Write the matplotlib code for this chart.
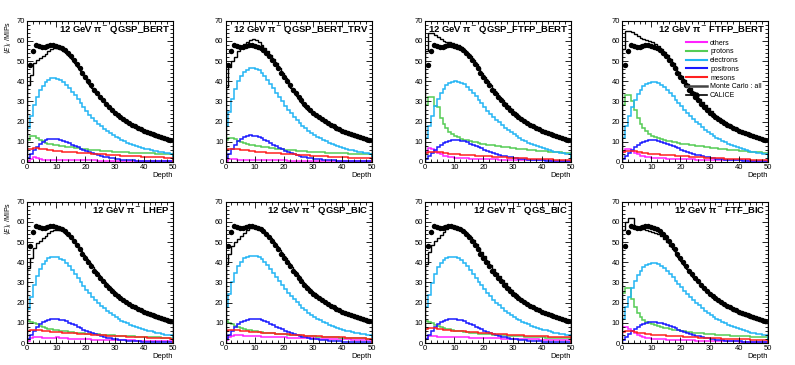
import matplotlib
matplotlib.use("Agg")
import matplotlib.pyplot as plt
import numpy as np
from matplotlib.lines import Line2D
from matplotlib.ticker import MultipleLocator

plt.rcParams["font.family"] = ["Liberation Sans", "DejaVu Sans"]

EDGES = np.arange(0, 51)
CALICE_X = np.arange(1, 50)
CALICE = [48, 55, 58, 57.5, 57.2, 57.2, 57.5, 58, 58, 57.6, 57, 56.3, 55.3, 54, 52.4, 50.6, 48.6,
          46.5, 44.3, 42.1, 40, 37.9, 35.9, 34, 32.2, 30.5, 28.9, 27.4, 25.9, 24.5, 23.3, 22.2, 21.1,
          20.1, 19.2, 18.4, 17.6, 16.9, 16.2, 15.5, 14.9, 14.4, 13.9, 13.4, 12.9, 12.4, 11.9, 11.4, 10.9]

# --- QGSP_BERT
QGSP_BERT_ALL = [38, 43, 49, 50.5, 51.5, 52.5, 53.5, 55, 56, 56.5, 56.5, 56, 55.2, 54, 52.6, 51, 49.2, 47.2, 45.1, 43,
                 40.9, 38.8, 36.8, 34.9, 33.1, 31.3, 29.7, 28.1, 26.6, 25.2, 23.9, 22.7, 21.6, 20.5, 19.5, 18.6, 17.7,
                 16.9, 16.2, 15.5, 14.8, 14.2, 13.6, 13.1, 12.6, 12.1, 11.6, 11.2, 10.8, 10.4]
QGSP_BERT_ELE = [17, 23, 28, 32, 35.5, 37.8, 39.5, 40.8, 41.4, 41.5, 41.3, 40.6, 39.6, 38.3, 36.7, 34.9, 33, 31, 29, 27.1,
                 25.2, 23.5, 21.9, 20.4, 19, 17.7, 16.5, 15.4, 14.4, 13.4, 12.5, 11.7, 10.9, 10.2, 9.6, 9, 8.4, 7.9,
                 7.4, 7, 6.6, 6.2, 5.9, 5.6, 5.3, 5, 4.8, 4.5, 4.3, 4.1]
QGSP_BERT_PRO = [11, 13, 13, 12, 11, 10.2, 9.6, 9.1, 8.7, 8.4, 8.2, 8, 7.8, 7.6, 7.4, 7.2, 7, 6.8, 6.6, 6.4, 6.2, 6.1,
                 6, 5.8, 5.7, 5.6, 5.5, 5.4, 5.3, 5.2, 5.1, 5, 4.9, 4.9, 4.8, 4.7, 4.7, 4.6, 4.5, 4.5, 4.4, 4.4, 4.3,
                 4.3, 4.2, 4.2, 4.1, 4.1, 4, 4]
QGSP_BERT_POS = [2, 4, 6, 7.5, 9, 10, 10.8, 11.3, 11.5, 11.5, 11.3, 11, 10.5, 10, 9.3, 8.6, 8, 7.3, 6.6, 6, 5.4, 4.8,
                 4.3, 3.8, 3.4, 3, 2.6, 2.3, 2, 1.8, 1.6, 1.4, 1.2, 1.1, 1, 0.9, 0.8, 0.7, 0.65, 0.6, 0.55, 0.5, 0.45,
                 0.42, 0.4, 0.37, 0.35, 0.33, 0.3, 0.3]
QGSP_BERT_MES = [6.2, 6.6, 6.8, 6.8, 6.6, 6.4, 6.2, 6, 5.8, 5.6, 5.4, 5.3, 5.2, 5.1, 5, 4.9, 4.8, 4.7, 4.6, 4.5, 4.4,
                 4.3, 4.2, 4.1, 4, 3.9, 3.8, 3.7, 3.6, 3.5, 3.4, 3.3, 3.2, 3.1, 3.1, 3, 2.9, 2.8, 2.8, 2.7, 2.6, 2.6,
                 2.5, 2.4, 2.4, 2.3, 2.3, 2.2, 2.2, 2.1]
QGSP_BERT_OTH = [0.5, 1.5, 2.3, 2, 1.5, 1.2, 1.1, 1, 1, 1, 1, 1, 1, 0.9, 0.9, 0.9, 0.9, 0.9, 0.8, 0.8, 0.8, 0.8, 0.8,
                 0.8, 0.7, 0.7, 0.7, 0.7, 0.7, 0.7, 0.7, 0.6, 0.6, 0.6, 0.6, 0.6, 0.6, 0.6, 0.6, 0.5, 0.5, 0.5, 0.5,
                 0.5, 0.5, 0.5, 0.5, 0.5, 0.5, 0.5]

# --- QGSP_BERT_TRV
TRV_ALL = [37, 47, 50, 52, 55, 57, 58.5, 59.5, 60.5, 61, 60.5, 59.5, 58, 56.5, 55, 53, 51, 49, 46.5, 44, 41.5, 39,
           36.8, 34.6, 32.6, 30.8, 29, 27.4, 26, 24.7, 23.5, 22.4, 21.3, 20.3, 19.3, 18.4, 17.6, 16.8, 16.1, 15.4,
           14.8, 14.2, 13.6, 13.1, 12.6, 12.1, 11.7, 11.3, 10.9, 10.5]
TRV_ELE = [18, 25, 31, 36, 40, 42.8, 44.6, 45.8, 46.4, 46.5, 46.2, 45.4, 44.2, 42.6, 40.8, 38.7, 36.5, 34.3, 32.1, 30,
           27.9, 26, 24.2, 22.5, 20.9, 19.4, 18, 16.8, 15.6, 14.5, 13.5, 12.6, 11.7, 10.9, 10.2, 9.5, 8.9, 8.3, 7.8,
           7.3, 6.9, 6.5, 6.1, 5.8, 5.5, 5.2, 4.9, 4.7, 4.4, 4.2]
TRV_PRO = [11, 12, 12, 11.2, 10.5, 10, 9.5, 9, 8.6, 8.3, 8, 7.8, 7.6, 7.4, 7.2, 7, 6.8, 6.6, 6.4, 6.3, 6.1, 6, 5.8,
           5.7, 5.6, 5.5, 5.4, 5.3, 5.2, 5.1, 5, 4.9, 4.8, 4.8, 4.7, 4.6, 4.6, 4.5, 4.4, 4.4, 4.3, 4.3, 4.2, 4.2,
           4.1, 4.1, 4, 4, 3.9, 3.9]
TRV_POS = [2, 4, 6.5, 8.5, 10.3, 11.6, 12.5, 13, 13.2, 13.1, 12.8, 12.3, 11.7, 11, 10.2, 9.4, 8.6, 7.8, 7, 6.3, 5.6,
           5, 4.4, 3.9, 3.4, 3, 2.7, 2.4, 2.1, 1.9, 1.7, 1.5, 1.3, 1.2, 1.1, 1, 0.9, 0.8, 0.7, 0.65, 0.6, 0.55, 0.5,
           0.45, 0.42, 0.4, 0.37, 0.35, 0.33, 0.3]
TRV_MES = [6, 6.5, 6.6, 6.5, 6.3, 6.1, 5.9, 5.7, 5.5, 5.3, 5.1, 5, 4.9, 4.8, 4.7, 4.6, 4.5, 4.4, 4.3, 4.2, 4.1, 4,
           3.9, 3.8, 3.7, 3.6, 3.5, 3.4, 3.3, 3.2, 3.1, 3, 2.9, 2.9, 2.8, 2.7, 2.6, 2.6, 2.5, 2.4, 2.4, 2.3, 2.2,
           2.2, 2.1, 2.1, 2, 2, 1.9, 1.9]
TRV_OTH = [0.5, 1.5, 1.7, 1.4, 1.2, 1.1, 1, 1, 1, 1, 0.9, 0.9, 0.9, 0.9, 0.9, 0.8, 0.8, 0.8, 0.8, 0.8, 0.8, 0.7, 0.7,
           0.7, 0.7, 0.7, 0.7, 0.7, 0.6, 0.6, 0.6, 0.6, 0.6, 0.6, 0.6, 0.6, 0.5, 0.5, 0.5, 0.5, 0.5, 0.5, 0.5, 0.5,
           0.5, 0.5, 0.5, 0.5, 0.5, 0.5]

# --- QGSP_FTFP_BERT
QFTFP_ALL = [55, 64, 64, 63, 62, 61, 60, 59.5, 59.5, 59, 58.5, 57.8, 56.8, 55.5, 54, 52.3, 50.5, 48.5, 46.4, 44.3,
             42.2, 40.1, 38.1, 36.1, 34.2, 32.4, 30.7, 29.1, 27.6, 26.2, 24.9, 23.7, 22.5, 21.4, 20.4, 19.4, 18.5,
             17.6, 16.8, 16, 15.3, 14.6, 14, 13.4, 12.8, 12.3, 11.8, 11.3, 10.8, 10.4]
QFTFP_ELE = [12, 18, 23, 27.5, 31, 34, 36.3, 38, 39.2, 39.8, 40, 39.8, 39.3, 38.4, 37.2, 35.8, 34.2, 32.5, 30.7, 29,
             27.2, 25.5, 24, 22.5, 21, 19.6, 18.3, 17, 15.9, 14.8, 13.8, 12.8, 11.9, 11.1, 10.3, 9.6, 8.9, 8.3, 7.7,
             7.2, 6.7, 6.3, 5.9, 5.5, 5.2, 4.9, 4.6, 4.3, 4.1, 3.8]
QFTFP_PRO = [28, 32, 32, 27.5, 27, 22, 19, 17, 15, 14, 13, 12.2, 11.6, 11.1, 10.7, 10.3, 10, 9.7, 9.4, 9.1, 8.8, 8.6,
             8.4, 8.2, 8, 7.8, 7.6, 7.4, 7.2, 7, 6.8, 6.6, 6.5, 6.3, 6.2, 6, 5.9, 5.8, 5.6, 5.5, 5.4, 5.3, 5.2, 5.1,
             5, 4.9, 4.8, 4.7, 4.6, 4.5]
QFTFP_POS = [1.5, 3, 4.5, 6, 7.3, 8.4, 9.3, 10, 10.5, 10.8, 11, 10.9, 10.6, 10.2, 9.7, 9.1, 8.5, 7.9, 7.3, 6.7, 6.1,
             5.5, 5, 4.5, 4, 3.6, 3.2, 2.9, 2.6, 2.3, 2.1, 1.9, 1.7, 1.5, 1.3, 1.2, 1.1, 1, 0.9, 0.8, 0.75, 0.7, 0.65,
             0.6, 0.55, 0.5, 0.45, 0.42, 0.4, 0.37]
QFTFP_MES = [4.5, 5, 5.2, 5.2, 5, 4.8, 4.6, 4.4, 4.2, 4, 3.9, 3.8, 3.7, 3.6, 3.5, 3.4, 3.3, 3.2, 3.1, 3, 2.95, 2.9,
             2.8, 2.7, 2.6, 2.5, 2.4, 2.3, 2.2, 2.1, 2, 1.95, 1.9, 1.8, 1.75, 1.7, 1.6, 1.55, 1.5, 1.45, 1.4, 1.35,
             1.3, 1.25, 1.2, 1.15, 1.1, 1.05, 1, 1]
QFTFP_OTH = [5, 7, 6.5, 5.5, 4.5, 3.8, 3.2, 2.8, 2.5, 2.3, 2.1, 2, 1.9, 1.8, 1.75, 1.7, 1.65, 1.6, 1.55, 1.5, 1.45,
             1.4, 1.35, 1.3, 1.25, 1.2, 1.15, 1.1, 1.05, 1, 1, 0.95, 0.95, 0.9, 0.9, 0.85, 0.85, 0.8, 0.8, 0.8, 0.75,
             0.75, 0.75, 0.7, 0.7, 0.7, 0.7, 0.65, 0.65, 0.65]

# --- FTFP_BERT
FTFP_ALL = [56, 65, 65, 64.5, 63.5, 62.5, 61.5, 61, 60.5, 60, 59.5, 58.5, 57.3, 56, 54.5, 52.8, 51, 49, 46.9, 44.8,
            42.7, 40.6, 38.5, 36.5, 34.6, 32.8, 31.1, 29.5, 28, 26.6, 25.3, 24, 22.8, 21.7, 20.6, 19.6, 18.7, 17.8,
            17, 16.2, 15.5, 14.8, 14.2, 13.6, 13, 12.5, 12, 11.5, 11, 10.6]
FTFP_ELE = [12, 18, 23, 27, 30.5, 33.5, 35.8, 37.5, 38.7, 39.3, 39.5, 39.4, 38.9, 38.1, 37, 35.7, 34.2, 32.6, 30.9,
            29.2, 27.5, 25.9, 24.3, 22.8, 21.3, 19.9, 18.6, 17.3, 16.1, 15, 14, 13, 12.1, 11.2, 10.4, 9.7, 9, 8.4,
            7.8, 7.3, 6.8, 6.3, 5.9, 5.5, 5.2, 4.9, 4.6, 4.3, 4, 3.8]
FTFP_PRO = [28, 33, 33, 30, 26, 22, 19, 17, 15.5, 14, 13, 12.4, 11.9, 11.4, 11, 10.6, 10.3, 10, 9.7, 9.4, 9.1, 8.9,
            8.7, 8.5, 8.3, 8.1, 7.9, 7.7, 7.5, 7.3, 7.1, 6.9, 6.7, 6.5, 6.4, 6.2, 6.1, 5.9, 5.8, 5.7, 5.5, 5.4, 5.3,
            5.2, 5.1, 5, 4.9, 4.8, 4.7, 4.6]
FTFP_POS = [1.5, 3, 4.5, 6, 7.2, 8.3, 9.2, 9.9, 10.4, 10.7, 10.8, 10.7, 10.5, 10.1, 9.6, 9.1, 8.5, 7.9, 7.3, 6.7,
            6.1, 5.6, 5, 4.5, 4.1, 3.7, 3.3, 2.9, 2.6, 2.3, 2.1, 1.9, 1.7, 1.5, 1.3, 1.2, 1.1, 1, 0.9, 0.8, 0.75,
            0.7, 0.65, 0.6, 0.55, 0.5, 0.45, 0.42, 0.4, 0.37]
FTFP_MES = [5, 5.5, 5.6, 5.5, 5.3, 5, 4.8, 4.6, 4.4, 4.2, 4, 3.9, 3.8, 3.7, 3.6, 3.5, 3.4, 3.3, 3.2, 3.1, 3, 2.9,
            2.8, 2.7, 2.6, 2.5, 2.4, 2.3, 2.2, 2.1, 2, 1.95, 1.9, 1.8, 1.75, 1.7, 1.6, 1.55, 1.5, 1.45, 1.4, 1.35,
            1.3, 1.25, 1.2, 1.15, 1.1, 1.05, 1, 1]
FTFP_OTH = [5, 6.5, 6.5, 5.5, 4.5, 3.8, 3.2, 2.8, 2.5, 2.3, 2.1, 2, 1.9, 1.8, 1.75, 1.7, 1.65, 1.6, 1.55, 1.5, 1.45,
            1.4, 1.35, 1.3, 1.25, 1.2, 1.15, 1.1, 1.05, 1, 1, 0.95, 0.95, 0.9, 0.9, 0.85, 0.85, 0.8, 0.8, 0.8, 0.75,
            0.75, 0.75, 0.7, 0.7, 0.7, 0.7, 0.65, 0.65, 0.65]

# --- LHEP
LHEP_ALL = [37, 42, 47, 49.5, 50.5, 52, 53, 54.5, 55.5, 56, 56.2, 56, 55.3, 54.2, 52.9, 51.4, 49.7, 47.8, 45.8, 43.7,
            41.6, 39.5, 37.5, 35.6, 33.7, 31.9, 30.2, 28.6, 27.1, 25.7, 24.4, 23.1, 21.9, 20.8, 19.8, 18.8, 17.9,
            17.1, 16.3, 15.5, 14.8, 14.1, 13.5, 12.9, 12.3, 11.8, 11.3, 10.8, 10.3, 9.9]
LHEP_ELE = [17, 23, 28.5, 33, 36.5, 39, 40.8, 41.9, 42.4, 42.6, 42.4, 41.8, 40.9, 39.6, 38, 36.2, 34.3, 32.3, 30.3,
            28.3, 26.4, 24.6, 22.9, 21.3, 19.8, 18.4, 17.1, 15.9, 14.8, 13.8, 12.8, 11.9, 11.1, 10.4, 9.7, 9, 8.4,
            7.9, 7.4, 6.9, 6.5, 6.1, 5.7, 5.4, 5.1, 4.8, 4.5, 4.2, 4, 3.8]
LHEP_PRO = [11, 10.5, 10, 9.3, 8.6, 8, 7.5, 7.1, 6.8, 6.5, 6.3, 6.1, 5.9, 5.7, 5.5, 5.3, 5.2, 5, 4.9, 4.8, 4.7, 4.6,
            4.5, 4.4, 4.3, 4.2, 4.1, 4, 3.9, 3.8, 3.7, 3.6, 3.5, 3.45, 3.4, 3.3, 3.25, 3.2, 3.1, 3.05, 3, 2.95, 2.9,
            2.85, 2.8, 2.75, 2.7, 2.65, 2.6, 2.55]
LHEP_POS = [2, 4, 6, 7.8, 9.2, 10.3, 11.1, 11.6, 11.9, 12, 11.9, 11.6, 11.2, 10.7, 10.1, 9.4, 8.7, 8, 7.3, 6.6, 6,
            5.4, 4.8, 4.3, 3.8, 3.4, 3, 2.7, 2.4, 2.1, 1.9, 1.7, 1.5, 1.3, 1.2, 1.1, 1, 0.9, 0.8, 0.7, 0.65, 0.6,
            0.55, 0.5, 0.45, 0.42, 0.4, 0.37, 0.35, 0.33]
LHEP_MES = [6, 6.5, 6.5, 6.4, 6.2, 6, 5.8, 5.7, 5.6, 5.5, 5.4, 5.3, 5.2, 5.1, 5, 4.9, 4.8, 4.7, 4.6, 4.5, 4.4, 4.3,
            4.2, 4.1, 4, 3.9, 3.8, 3.7, 3.6, 3.5, 3.45, 3.4, 3.3, 3.25, 3.2, 3.1, 3.05, 3, 2.9, 2.85, 2.8, 2.7, 2.65,
            2.6, 2.5, 2.45, 2.4, 2.3, 2.25, 2.2]
LHEP_OTH = [1, 2.5, 3, 3, 2.9, 2.7, 2.5, 2.4, 2.5, 2.7, 2.8, 2.6, 2.4, 2.3, 2.2, 2.1, 2, 2, 1.9, 1.9, 1.8, 1.8, 1.7,
            1.7, 1.6, 1.6, 1.6, 1.5, 1.5, 1.5, 1.4, 1.4, 1.4, 1.3, 1.3, 1.3, 1.3, 1.2, 1.2, 1.2, 1.2, 1.1, 1.1, 1.1,
            1.1, 1, 1, 1, 1, 1]

# --- QGSP_BIC
QBIC_ALL = [39, 44, 48, 50, 51.5, 53, 54.5, 56, 57, 57.5, 57.5, 57, 56.2, 55, 53.6, 52, 50.2, 48.2, 46.1, 44, 41.9,
            39.8, 37.8, 35.8, 33.9, 32.1, 30.4, 28.8, 27.3, 25.9, 24.6, 23.3, 22.1, 21, 20, 19, 18.1, 17.3, 16.5,
            15.7, 15, 14.4, 13.8, 13.2, 12.6, 12.1, 11.6, 11.1, 10.7, 10.3]
QBIC_ELE = [18, 24.5, 30, 34.5, 38, 40.3, 41.9, 42.8, 43.2, 43.2, 43, 42.4, 41.5, 40.2, 38.6, 36.8, 34.8, 32.8, 30.8,
            28.8, 26.8, 25, 23.2, 21.6, 20.1, 18.7, 17.4, 16.2, 15.1, 14, 13, 12.1, 11.3, 10.5, 9.8, 9.1, 8.5, 8, 7.5,
            7, 6.5, 6.1, 5.7, 5.4, 5.1, 4.8, 4.5, 4.3, 4, 3.8]
QBIC_PRO = [11, 10, 9.2, 8.5, 7.9, 7.4, 7, 6.6, 6.3, 6, 5.8, 5.6, 5.4, 5.2, 5, 4.9, 4.8, 4.6, 4.5, 4.4, 4.3, 4.2,
            4.1, 4, 3.9, 3.8, 3.7, 3.6, 3.5, 3.4, 3.3, 3.2, 3.15, 3.1, 3, 2.95, 2.9, 2.8, 2.75, 2.7, 2.6, 2.55, 2.5,
            2.45, 2.4, 2.35, 2.3, 2.25, 2.2, 2.15]
QBIC_POS = [2, 4, 6, 7.8, 9.2, 10.3, 11.1, 11.6, 11.9, 12, 12, 11.7, 11.3, 10.8, 10.2, 9.5, 8.8, 8.1, 7.4, 6.7, 6.1,
            5.5, 4.9, 4.4, 3.9, 3.5, 3.1, 2.8, 2.5, 2.2, 2, 1.8, 1.6, 1.4, 1.3, 1.2, 1.1, 1, 0.9, 0.8, 0.7, 0.65,
            0.6, 0.55, 0.5, 0.45, 0.42, 0.4, 0.37, 0.35]
QBIC_MES = [6, 6.5, 6.6, 6.5, 6.3, 6.1, 5.9, 5.8, 5.6, 5.5, 5.4, 5.3, 5.2, 5.1, 5, 4.9, 4.8, 4.7, 4.6, 4.5, 4.4, 4.3,
            4.2, 4.1, 4, 3.9, 3.8, 3.7, 3.6, 3.5, 3.4, 3.35, 3.3, 3.2, 3.15, 3.1, 3, 2.95, 2.9, 2.8, 2.75, 2.7, 2.6,
            2.55, 2.5, 2.4, 2.35, 2.3, 2.2, 2.15]
QBIC_OTH = [1.5, 3, 3.5, 3.8, 3.9, 3.8, 3.7, 3.6, 3.5, 3.5, 3.4, 3.3, 3.2, 3.2, 3.1, 3, 3, 2.9, 2.9, 2.8, 2.8, 2.7,
            2.7, 2.6, 2.6, 2.5, 2.5, 2.4, 2.4, 2.3, 2.3, 2.2, 2.2, 2.1, 2.1, 2, 2, 2, 1.9, 1.9, 1.8, 1.8, 1.8, 1.7,
            1.7, 1.7, 1.6, 1.6, 1.6, 1.5]

# --- QGS_BIC
QGS_ALL = [39, 45, 48.5, 50.5, 52, 53.5, 55, 56.5, 57.5, 58, 57.8, 57.2, 56.5, 55.5, 54.2, 52.7, 51, 49.1, 47.1, 45,
           42.9, 40.8, 38.7, 36.7, 34.8, 33, 31.2, 29.5, 27.9, 26.4, 25, 23.7, 22.5, 21.4, 20.3, 19.3, 18.4, 17.5,
           16.7, 15.9, 15.2, 14.5, 13.9, 13.3, 12.7, 12.2, 11.7, 11.2, 10.8, 10.4]
QGS_ELE = [18, 24, 29.5, 34, 37.5, 39.8, 41.3, 42.2, 42.6, 42.7, 42.5, 41.9, 41, 39.7, 38.1, 36.3, 34.4, 32.4, 30.4,
           28.5, 26.6, 24.8, 23.1, 21.5, 20, 18.6, 17.3, 16.1, 15, 14, 13, 12.1, 11.3, 10.5, 9.8, 9.2, 8.6, 8, 7.5,
           7, 6.6, 6.2, 5.8, 5.5, 5.2, 4.9, 4.6, 4.4, 4.1, 3.9]
QGS_PRO = [11, 10.5, 9.7, 9, 8.4, 7.9, 7.4, 7, 6.7, 6.4, 6.1, 5.9, 5.7, 5.5, 5.3, 5.1, 5, 4.8, 4.7, 4.6, 4.5, 4.4,
           4.3, 4.2, 4.1, 4, 3.9, 3.8, 3.7, 3.6, 3.5, 3.4, 3.3, 3.25, 3.2, 3.1, 3.05, 3, 2.9, 2.85, 2.8, 2.7, 2.65,
           2.6, 2.55, 2.5, 2.45, 2.4, 2.35, 2.3]
QGS_POS = [2, 4, 6, 7.8, 9.2, 10.3, 11.1, 11.6, 11.9, 12, 11.9, 11.6, 11.2, 10.7, 10.1, 9.5, 8.8, 8.1, 7.4, 6.8, 6.1,
           5.5, 5, 4.5, 4, 3.6, 3.2, 2.8, 2.5, 2.2, 2, 1.8, 1.6, 1.4, 1.3, 1.2, 1.1, 1, 0.9, 0.8, 0.7, 0.65, 0.6,
           0.55, 0.5, 0.45, 0.42, 0.4, 0.37, 0.35]
QGS_MES = [7, 7.5, 7.5, 7.3, 7, 6.8, 6.6, 6.4, 6.2, 6.1, 6, 5.9, 5.8, 5.7, 5.6, 5.5, 5.4, 5.3, 5.2, 5.1, 5, 4.9,
           4.8, 4.7, 4.6, 4.5, 4.4, 4.3, 4.2, 4.1, 4, 3.9, 3.85, 3.8, 3.7, 3.65, 3.6, 3.5, 3.45, 3.4, 3.3, 3.25, 3.2,
           3.1, 3.05, 3, 2.95, 2.9, 2.85, 2.8]
QGS_OTH = [2, 3.5, 3.5, 3.3, 3.2, 3.1, 3, 3, 3, 3, 3, 2.9, 2.9, 2.8, 2.8, 2.7, 2.7, 2.6, 2.6, 2.5, 2.5, 2.5, 2.4,
           2.4, 2.3, 2.3, 2.2, 2.2, 2.1, 2.1, 2, 2, 2, 1.9, 1.9, 1.9, 1.8, 1.8, 1.8, 1.7, 1.7, 1.7, 1.6, 1.6, 1.6,
           1.5, 1.5, 1.5, 1.5, 1.4]

# --- FTF_BIC
FBIC_ALL = [56, 60, 62, 62, 57.5, 57, 56.8, 56.5, 56, 55.5, 55, 54.5, 53.8, 52.8, 51.5, 50, 48.3, 46.4, 44.4, 42.4,
            40.4, 38.4, 36.5, 34.6, 32.8, 31.1, 29.5, 27.9, 26.5, 25.1, 23.8, 22.6, 21.5, 20.4, 19.4, 18.5, 17.6,
            16.8, 16, 15.3, 14.6, 14, 13.4, 12.8, 12.3, 11.8, 11.3, 10.9, 10.5, 10.1]
FBIC_ELE = [12, 18, 23, 27, 30.5, 33.5, 35.8, 37.5, 38.7, 39.3, 39.5, 39.4, 38.9, 38.1, 37, 35.7, 34.2, 32.6, 30.9,
            29.2, 27.5, 25.9, 24.3, 22.8, 21.3, 19.9, 18.6, 17.3, 16.1, 15, 14, 13, 12.1, 11.2, 10.4, 9.7, 9, 8.4,
            7.8, 7.3, 6.8, 6.3, 5.9, 5.5, 5.2, 4.9, 4.6, 4.3, 4, 3.8]
FBIC_PRO = [25, 27, 27, 22, 18, 15, 13, 11.5, 10.5, 9.8, 9.2, 8.8, 8.4, 8, 7.6, 7.2, 6.9, 6.6, 6.4, 6.2, 6, 5.8,
            5.6, 5.4, 5.2, 5, 4.9, 4.8, 4.6, 4.5, 4.4, 4.3, 4.2, 4.1, 4, 3.9, 3.8, 3.7, 3.6, 3.5, 3.45, 3.4, 3.3,
            3.25, 3.2, 3.1, 3.05, 3, 2.95, 2.9]
FBIC_POS = [1.5, 3, 4.5, 5.9, 7.1, 8.1, 8.9, 9.5, 10, 10.3, 10.4, 10.3, 10.1, 9.8, 9.4, 8.9, 8.4, 7.8, 7.2, 6.6,
            6.1, 5.5, 5, 4.5, 4.1, 3.7, 3.3, 2.9, 2.6, 2.3, 2.1, 1.9, 1.7, 1.5, 1.3, 1.2, 1.1, 1, 0.9, 0.8, 0.75,
            0.7, 0.65, 0.6, 0.55, 0.5, 0.45, 0.42, 0.4, 0.37]
FBIC_MES = [5.5, 6, 6, 5.8, 5.5, 5.2, 5, 4.8, 4.6, 4.4, 4.2, 4.1, 4, 3.9, 3.8, 3.7, 3.6, 3.5, 3.4, 3.35, 3.3, 3.2,
            3.1, 3, 2.9, 2.8, 2.7, 2.65, 2.6, 2.5, 2.45, 2.4, 2.3, 2.25, 2.2, 2.15, 2.1, 2.05, 2, 1.95, 1.9, 1.85,
            1.8, 1.75, 1.7, 1.65, 1.6, 1.55, 1.5, 1.5]
FBIC_OTH = [8, 8, 7, 6, 5, 4.2, 3.6, 3.1, 2.7, 2.4, 2.2, 2, 1.9, 1.8, 1.75, 1.7, 1.65, 1.6, 1.55, 1.5, 1.45, 1.4,
            1.35, 1.3, 1.25, 1.2, 1.15, 1.1, 1.05, 1, 1, 0.95, 0.9, 0.9, 0.85, 0.85, 0.8, 0.8, 0.75, 0.75, 0.7, 0.7,
            0.7, 0.65, 0.65, 0.65, 0.6, 0.6, 0.6, 0.6]

MODELS = ["QGSP_BERT", "QGSP_BERT_TRV", "QGSP_FTFP_BERT", "FTFP_BERT",
          "LHEP", "QGSP_BIC", "QGS_BIC", "FTF_BIC"]

# per panel: (all, others, protons, electrons, positrons, mesons)
PANELS = [
    (QGSP_BERT_ALL, QGSP_BERT_OTH, QGSP_BERT_PRO, QGSP_BERT_ELE, QGSP_BERT_POS, QGSP_BERT_MES),
    (TRV_ALL, TRV_OTH, TRV_PRO, TRV_ELE, TRV_POS, TRV_MES),
    (QFTFP_ALL, QFTFP_OTH, QFTFP_PRO, QFTFP_ELE, QFTFP_POS, QFTFP_MES),
    (FTFP_ALL, FTFP_OTH, FTFP_PRO, FTFP_ELE, FTFP_POS, FTFP_MES),
    (LHEP_ALL, LHEP_OTH, LHEP_PRO, LHEP_ELE, LHEP_POS, LHEP_MES),
    (QBIC_ALL, QBIC_OTH, QBIC_PRO, QBIC_ELE, QBIC_POS, QBIC_MES),
    (QGS_ALL, QGS_OTH, QGS_PRO, QGS_ELE, QGS_POS, QGS_MES),
    (FBIC_ALL, FBIC_OTH, FBIC_PRO, FBIC_ELE, FBIC_POS, FBIC_MES),
]

COMPONENTS = ["others", "protons", "electrons", "positrons", "mesons"]
COLORS = {"others": "#ff22ff", "protons": "#55cc55", "electrons": "#22b4f4",
          "positrons": "#1a1aff", "mesons": "#ff2020"}

W, H = 795, 365
LEFTS = [27, 225.5, 425, 622]
TOPS = [20.7, 201.7]
AX_W, AX_H = 146, 141.3

fig = plt.figure(figsize=(W / 100, H / 100), dpi=100)

for i, (model, series) in enumerate(zip(MODELS, PANELS)):
    row, col = divmod(i, 4)
    left = LEFTS[col] / W
    bottom = 1 - (TOPS[row] + AX_H) / H
    ax = fig.add_axes([left, bottom, AX_W / W, AX_H / H])

    mc_all = series[0]
    for name, vals in zip(COMPONENTS, series[1:]):
        ax.stairs(vals, EDGES, color=COLORS[name], lw=1.1)
    ax.stairs(mc_all, EDGES, color="black", lw=1.0)
    ax.plot(CALICE_X, CALICE, "o", color="black", ms=3.9, mew=0, zorder=5)

    ax.set_xlim(0, 50)
    ax.set_ylim(0, 70)
    ax.xaxis.set_major_locator(MultipleLocator(10))
    ax.xaxis.set_minor_locator(MultipleLocator(2))
    ax.yaxis.set_major_locator(MultipleLocator(10))
    ax.yaxis.set_minor_locator(MultipleLocator(2))
    ax.tick_params(which="both", direction="in", top=True, right=True, width=0.6, labelsize=5.5, pad=1.5)
    ax.tick_params(which="major", length=4)
    ax.tick_params(which="minor", length=2)
    for sp in ax.spines.values():
        sp.set_linewidth(0.8)
    ax.set_xlabel("Depth", loc="right", fontsize=5.5, labelpad=1)
    if col == 0:
        ax.set_ylabel(r"$\langle E\rangle_i$ /MIPs", loc="top", fontsize=5, labelpad=2)

    ax.text(0.98, 0.975, "12 GeV \u03c0$^{-}$ " + model, transform=ax.transAxes,
            ha="right", va="top", fontsize=6.8, fontweight="bold", zorder=6)

    if model == "FTFP_BERT":
        handles = [Line2D([], [], color=COLORS[n], lw=1.5) for n in COMPONENTS]
        handles.append(Line2D([], [], color="#444444", lw=1.8))
        handles.append(Line2D([], [], color="black", lw=1.2, marker="o", ms=3.5))
        labels = COMPONENTS + ["Monte Carlo : all", "CALICE"]
        ax.legend(handles, labels, loc="upper right", bbox_to_anchor=(0.99, 0.9), fontsize=5,
                  frameon=False, handlelength=3.0, labelspacing=0.25, handletextpad=0.5, borderpad=0.2)

fig.savefig("out.png", dpi=100)
